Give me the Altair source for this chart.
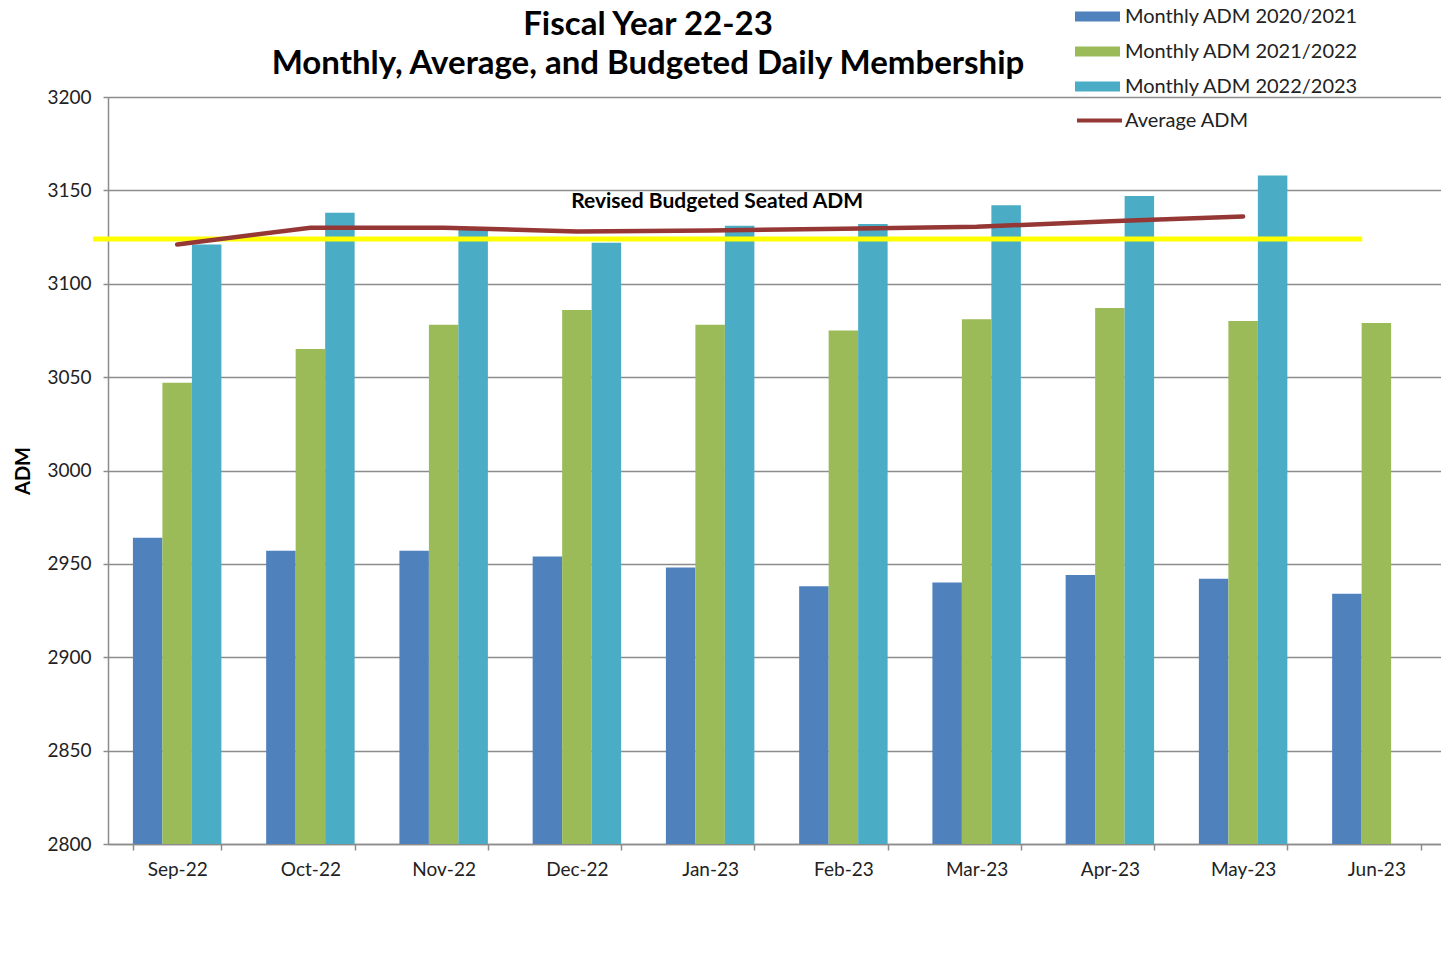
import altair as alt
import pandas as pd

title_lines = ["Fiscal Year 22-23", "Monthly, Average, and Budgeted Daily Membership"]
months = ["Sep-22", "Oct-22", "Nov-22", "Dec-22", "Jan-23",
          "Feb-23", "Mar-23", "Apr-23", "May-23", "Jun-23"]
series_names = ["Monthly ADM 2020/2021", "Monthly ADM 2021/2022", "Monthly ADM 2022/2023"]
series_colors = ["#4F81BD", "#9BBB59", "#4BACC6"]
adm_2020_21 = [2964, 2957, 2957, 2954, 2948, 2938, 2940, 2944, 2942, 2934]
adm_2021_22 = [3047, 3065, 3078, 3086, 3078, 3075, 3081, 3087, 3080, 3079]
adm_2022_23 = [3121, 3138, 3129, 3122, 3131, 3132, 3142, 3147, 3158, None]
avg_months = months[:9]
avg_adm = [3121, 3130, 3130, 3128, 3128.5, 3129.5, 3130.5, 3133.5, 3136]
avg_name = "Average ADM"
budget_value = 3124
budget_end_month = "Jun-23"
budget_label = "Revised Budgeted Seated ADM"
budget_label_month = "Jan-23"
budget_label_value = 3144
y_ticks = [2800, 2850, 2900, 2950, 3000, 3050, 3100, 3150, 3200]

FONT = "Lato"

rows = []
for name, vals in zip(series_names, [adm_2020_21, adm_2021_22, adm_2022_23]):
    for m, v in zip(months, vals):
        if v is not None:
            rows.append({"month": m, "series": name, "adm": v})
bars_df = pd.DataFrame(rows)
avg_df = pd.DataFrame({"month": avg_months, "adm": avg_adm, "name": avg_name})
budget_df = pd.DataFrame({"end": [budget_end_month], "adm": [budget_value]})
label_df = pd.DataFrame({"month": [budget_label_month], "adm": [budget_label_value],
                         "text": [budget_label]})
title_df = pd.DataFrame({"line": title_lines, "row": [0, 1]})

x_enc = alt.X("month:N", sort=months,
              scale=alt.Scale(domain=months, paddingInner=0.336, paddingOuter=0.17,
                              align=0.55),
              axis=alt.Axis(title=None, labelAngle=0, tickBand="extent", tickSize=6,
                            labelPadding=10, labelFont=FONT, labelFontSize=19,
                            labelColor="#222222", domainColor="#8c8c8c",
                            tickColor="#8c8c8c", domainWidth=1.5, tickWidth=1.5,
                            grid=False))
y_scale = alt.Scale(domain=[2800, 3200], nice=False, zero=False)
y_enc = alt.Y("adm:Q", scale=y_scale,
              axis=alt.Axis(title="ADM", values=y_ticks, format="d", tickSize=5,
                            labelPadding=12,
                            labelFont=FONT, labelFontSize=19, labelColor="#222222",
                            titleFont=FONT, titleFontSize=20, titleFontWeight="bold",
                            titleColor="black", titlePadding=13,
                            domainColor="#8c8c8c", tickColor="#8c8c8c",
                            gridColor="#8c8c8c", gridWidth=1.5, domainWidth=1.5,
                            tickWidth=1.5))

bars = alt.Chart(bars_df).mark_bar(clip=True).encode(
    x=x_enc,
    xOffset=alt.XOffset("series:N", sort=series_names,
                        scale=alt.Scale(domain=series_names)),
    y=y_enc,
    color=alt.Color("series:N", sort=series_names,
                    scale=alt.Scale(domain=series_names, range=series_colors),
                    legend=alt.Legend(title=None, orient="none", legendX=967, legendY=-103,
                                      symbolType="M-1,-0.22H1V0.22H-1Z", symbolSize=2025,
                                      symbolStrokeWidth=0, labelOffset=5, rowPadding=2,
                                      labelFont=FONT, labelFontSize=20,
                                      labelColor="#222222", labelLimit=400)),
)

budget = alt.Chart(budget_df).mark_rule(color="#FFFF00", strokeWidth=5).encode(
    x=alt.X("end:N", sort=months, bandPosition=0.34),
    x2=alt.value(-15),
    y=alt.Y("adm:Q", scale=y_scale),
)

avg_line = alt.Chart(avg_df).mark_line(strokeWidth=4.5, strokeCap="round").encode(
    x=alt.X("month:N", sort=months),
    y=alt.Y("adm:Q", scale=y_scale),
    stroke=alt.Stroke("name:N", scale=alt.Scale(domain=[avg_name], range=["#953735"]),
                      legend=alt.Legend(title=None, orient="none", legendX=967, legendY=-1,
                                        symbolType="stroke", symbolSize=2025,
                                        symbolStrokeWidth=4, labelOffset=1,
                                        labelFont=FONT, labelFontSize=20,
                                        labelColor="#222222")),
)

label = alt.Chart(label_df).mark_text(font=FONT, fontSize=21, fontWeight="bold",
                                      color="black", dx=7).encode(
    x=alt.X("month:N", sort=months),
    y=alt.Y("adm:Q", scale=y_scale),
    text="text:N",
)

title1 = alt.Chart(title_df.iloc[[0]]).mark_text(
    font=FONT, fontSize=33, fontWeight="bold", color="black", baseline="middle"
).encode(x=alt.value(540), y=alt.value(-72), text="line:N")
title2 = alt.Chart(title_df.iloc[[1]]).mark_text(
    font=FONT, fontSize=33, fontWeight="bold", color="black", baseline="middle"
).encode(x=alt.value(540), y=alt.value(-33), text="line:N")

chart = alt.layer(bars, budget, avg_line, label, title1, title2).properties(
    width=1333,
    height=747,
    autosize=alt.AutoSizeParams(type="none"),
    padding={"left": 100, "top": 89, "right": 0, "bottom": 60},
).configure_view(stroke="#d0d0d0").configure_axisY(grid=True)

chart.save("out.html", embed_options={"renderer": "svg", "actions": False})
